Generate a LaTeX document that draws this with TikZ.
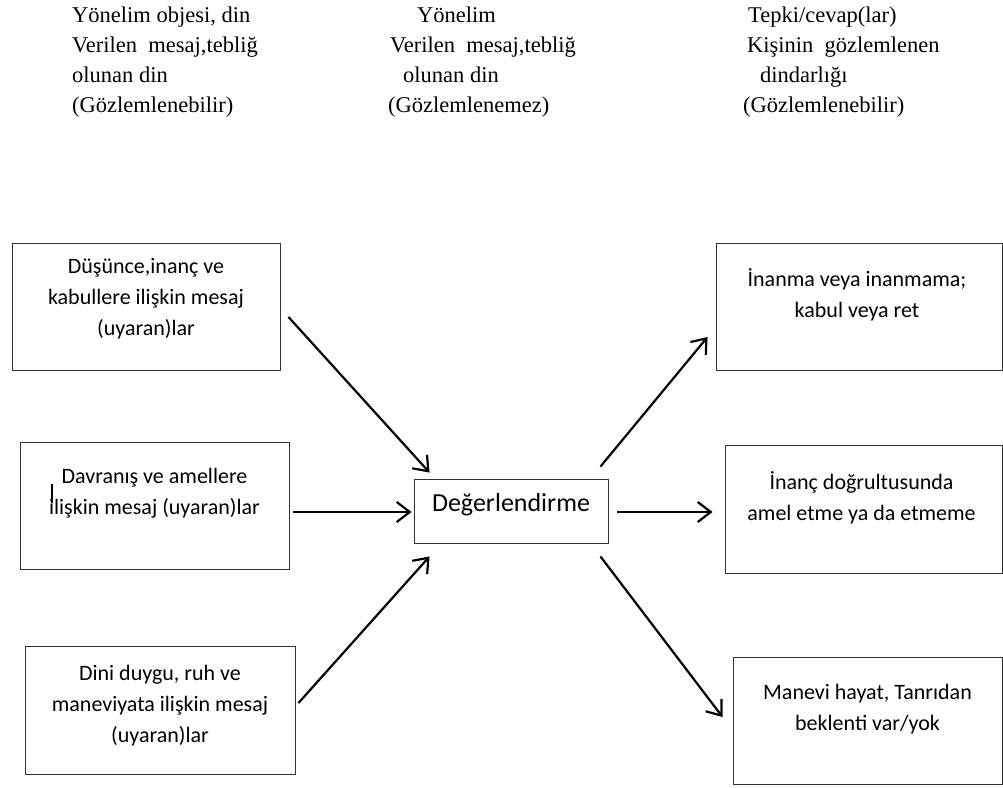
\documentclass[tikz,border=0pt]{standalone}
\usepackage{fontspec}
\setmainfont{Liberation Serif}
\newfontfamily\kutufont{Carlito}
\usetikzlibrary{arrows.meta,calc,positioning}

\tikzset{
	kutu/.style={draw=black!80, line width=0.9pt, minimum height=127pt},
	yazi/.style={font=\kutufont\fontsize{22}{31}\selectfont, align=center, inner sep=0pt},
	baslik/.style={font=\fontsize{22.5}{30}\selectfont, align=left, anchor=north west, inner sep=0pt},
	ok/.style={line width=2.2pt, -{Straight Barb[length=13pt,width=20pt]}},
}

\begin{document}
\begin{tikzpicture}[x=1pt, y=-1pt]
		\useasboundingbox (0,0) rectangle (1003,787);
		\node[baslik] (obje) at (72,7) {Yönelim objesi, din\\Verilen\ \ mesaj,tebliğ\\olunan din\\(Gözlemlenebilir)};
		\node[baslik] (yonelim) at (388,7) {\hspace*{29pt}Yönelim\\\hspace*{2pt}Verilen\ \ mesaj,tebliğ\\\hspace*{15pt}olunan din\\(Gözlemlenemez)};
		\node[baslik] (tepki) at (743,7) {\hspace*{5pt}Tepki/cevap(lar)\\\hspace*{4pt}Kişinin\ \ gözlemlenen\\\hspace*{17pt}dindarlığı\\(Gözlemlenebilir)};

		\node[kutu, minimum width=268pt] (dusunce) at (146,306.5) {};
		\node[kutu, minimum width=269pt] (davranis) at (154.5,505.5) {};
		\node[kutu, minimum width=270pt, minimum height=128pt] (duygu) at (160,710) {};
		\node[kutu, minimum width=194pt, minimum height=64pt] (deger) at (511,511) {};
		\node[kutu, minimum width=286pt] (inanma) at (859,306.5) {};
		\node[kutu, minimum width=277pt, minimum height=128pt] (amel) at (863.5,509) {};
		\node[kutu, minimum width=269pt] (manevi) at (867.5,720.5) {};

		\node[yazi] (dusunceyazi) at ($(dusunce)+(0,-7.5)$) {Düşünce,inanç ve\\kabullere ilişkin mesaj\\(uyaran)lar};
		\node[yazi] (davranisyazi) at ($(davranis)+(0,-12.5)$) {Davranış ve amellere\\ilişkin mesaj (uyaran)lar};
		\node[yazi] (duyguyazi) at ($(duygu)+(0,-4.5)$) {Dini duygu, ruh ve\\maneviyata ilişkin mesaj\\(uyaran)lar};
		\node[yazi, font=\kutufont\fontsize{26}{31}\selectfont] (degeryazi) at ($(deger)+(0,-6.5)$) {Değerlendirme};
		\node[yazi] (inanmayazi) at ($(inanma)+(-2,-11.5)$) {İnanma veya inanmama;\\kabul veya ret};
		\node[yazi] (amelyazi) at ($(amel)+(-2,-11.5)$) {İnanç doğrultusunda\\amel etme ya da etmeme};
		\node[yazi] (maneviyazi) at ($(manevi)+(0,-11)$) {Manevi hayat, Tanrıdan\\beklenti var/yok};

		\draw[line width=2pt] ($(davranis.north west)+(32,42)$) -- +(0,19);

		\draw[ok] ($(dusunce.east)+(8,10.5)$) -- ($(deger.north west)+(16,-6)$);
		\draw[ok] ($(davranis.east)+(4,6.5)$) -- ($(deger.west)+(-2,1)$);
		\draw[ok] ($(duygu.east)+(3,-7)$) -- ($(deger.south west)+(16,13)$);
		\draw[ok] ($(deger.north east)+(-8,-12)$) -- ($(inanma.west)+(-8,30.5)$);
		\draw[ok] ($(deger.east)+(9,1)$) -- ($(amel.west)+(-12,3)$);
		\draw[ok] ($(deger.south east)+(-8,13)$) -- ($(manevi.west)+(-10,-3.5)$);
	\end{tikzpicture}
\end{document}
